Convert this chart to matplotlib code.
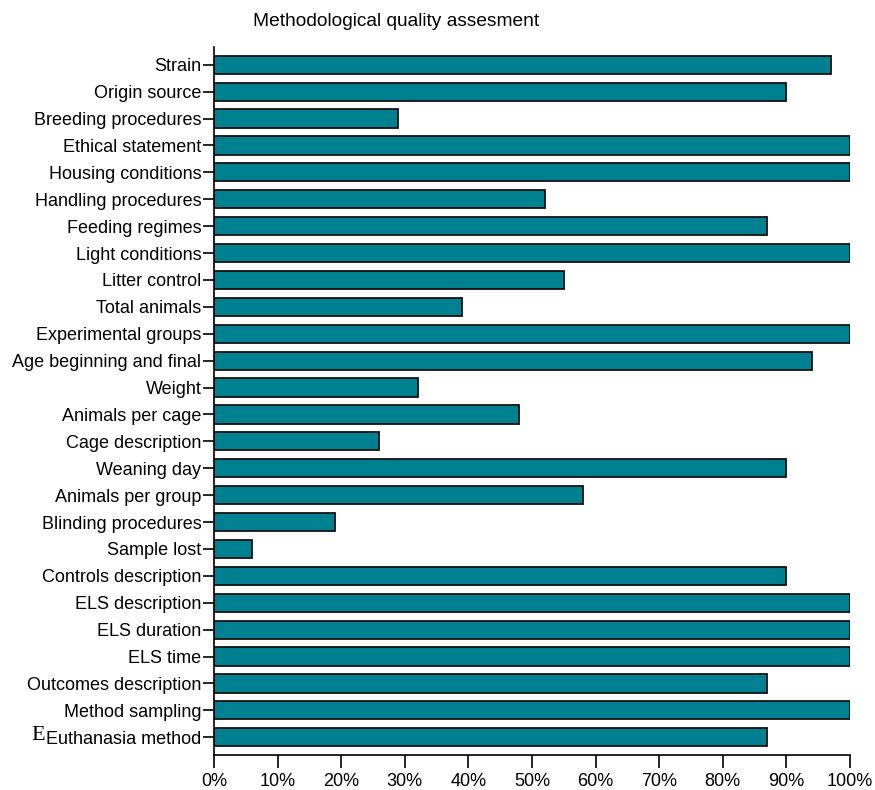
import matplotlib
matplotlib.use("Agg")
import matplotlib.pyplot as plt
from matplotlib import font_manager
from matplotlib.ticker import PercentFormatter

names = {f.name for f in font_manager.fontManager.ttflist}
narrow = "Liberation Sans Narrow" in names
plt.rcParams["font.family"] = ["Liberation Sans Narrow", "Liberation Sans", "DejaVu Sans"]
lab_size = 15.5 if narrow else 13.0
title_size = 17 if narrow else 13.8

items = [
    "Strain", "Origin source", "Breeding procedures", "Ethical statement",
    "Housing conditions", "Handling procedures", "Feeding regimes",
    "Light conditions", "Litter control", "Total animals",
    "Experimental groups", "Age beginning and final", "Weight",
    "Animals per cage", "Cage description", "Weaning day",
    "Animals per group", "Blinding procedures", "Sample lost",
    "Controls description", "ELS description", "ELS duration", "ELS time",
    "Outcomes description", "Method sampling", "Euthanasia method",
]
percent = [
    97, 90, 29, 100, 100, 52, 87, 100, 55, 39,
    100, 94, 32, 48, 26, 90, 58, 19, 6,
    90, 100, 100, 100, 87, 100, 87,
]
xticks = list(range(0, 101, 10))

fig = plt.figure(figsize=(8.75, 7.9), dpi=100)
ax = fig.add_axes([214 / 875, 1 - 755 / 790, 636 / 875, (755 - 47) / 790])

ypos = list(range(len(items)))
ax.barh(ypos, percent, height=0.68, color="#008192",
        edgecolor="#111111", linewidth=1.3)

ax.set_xlim(0, 100)
ax.set_ylim(len(items) - 1 + 0.66, -0.66)
ax.set_yticks(ypos)
ax.set_yticklabels(items, fontsize=lab_size)
ax.set_xticks(xticks)
ax.xaxis.set_major_formatter(PercentFormatter(decimals=0))
ax.tick_params(axis="x", labelsize=lab_size, length=9, width=1.2, pad=4)
ax.tick_params(axis="y", length=8, width=1.2, pad=1)

for side in ("top", "right"):
    ax.spines[side].set_visible(False)
for side in ("left", "bottom"):
    ax.spines[side].set_linewidth(1.2)

fig.text(396 / 875, 1 - 21 / 790, "Methodological quality assesment",
         ha="center", va="center", fontsize=title_size)
fig.text(38 / 875, 1 - 736 / 790, "E", ha="center", va="center",
         fontsize=16, family=["Liberation Serif", "DejaVu Serif"])

fig.savefig("out.png", dpi=100)
